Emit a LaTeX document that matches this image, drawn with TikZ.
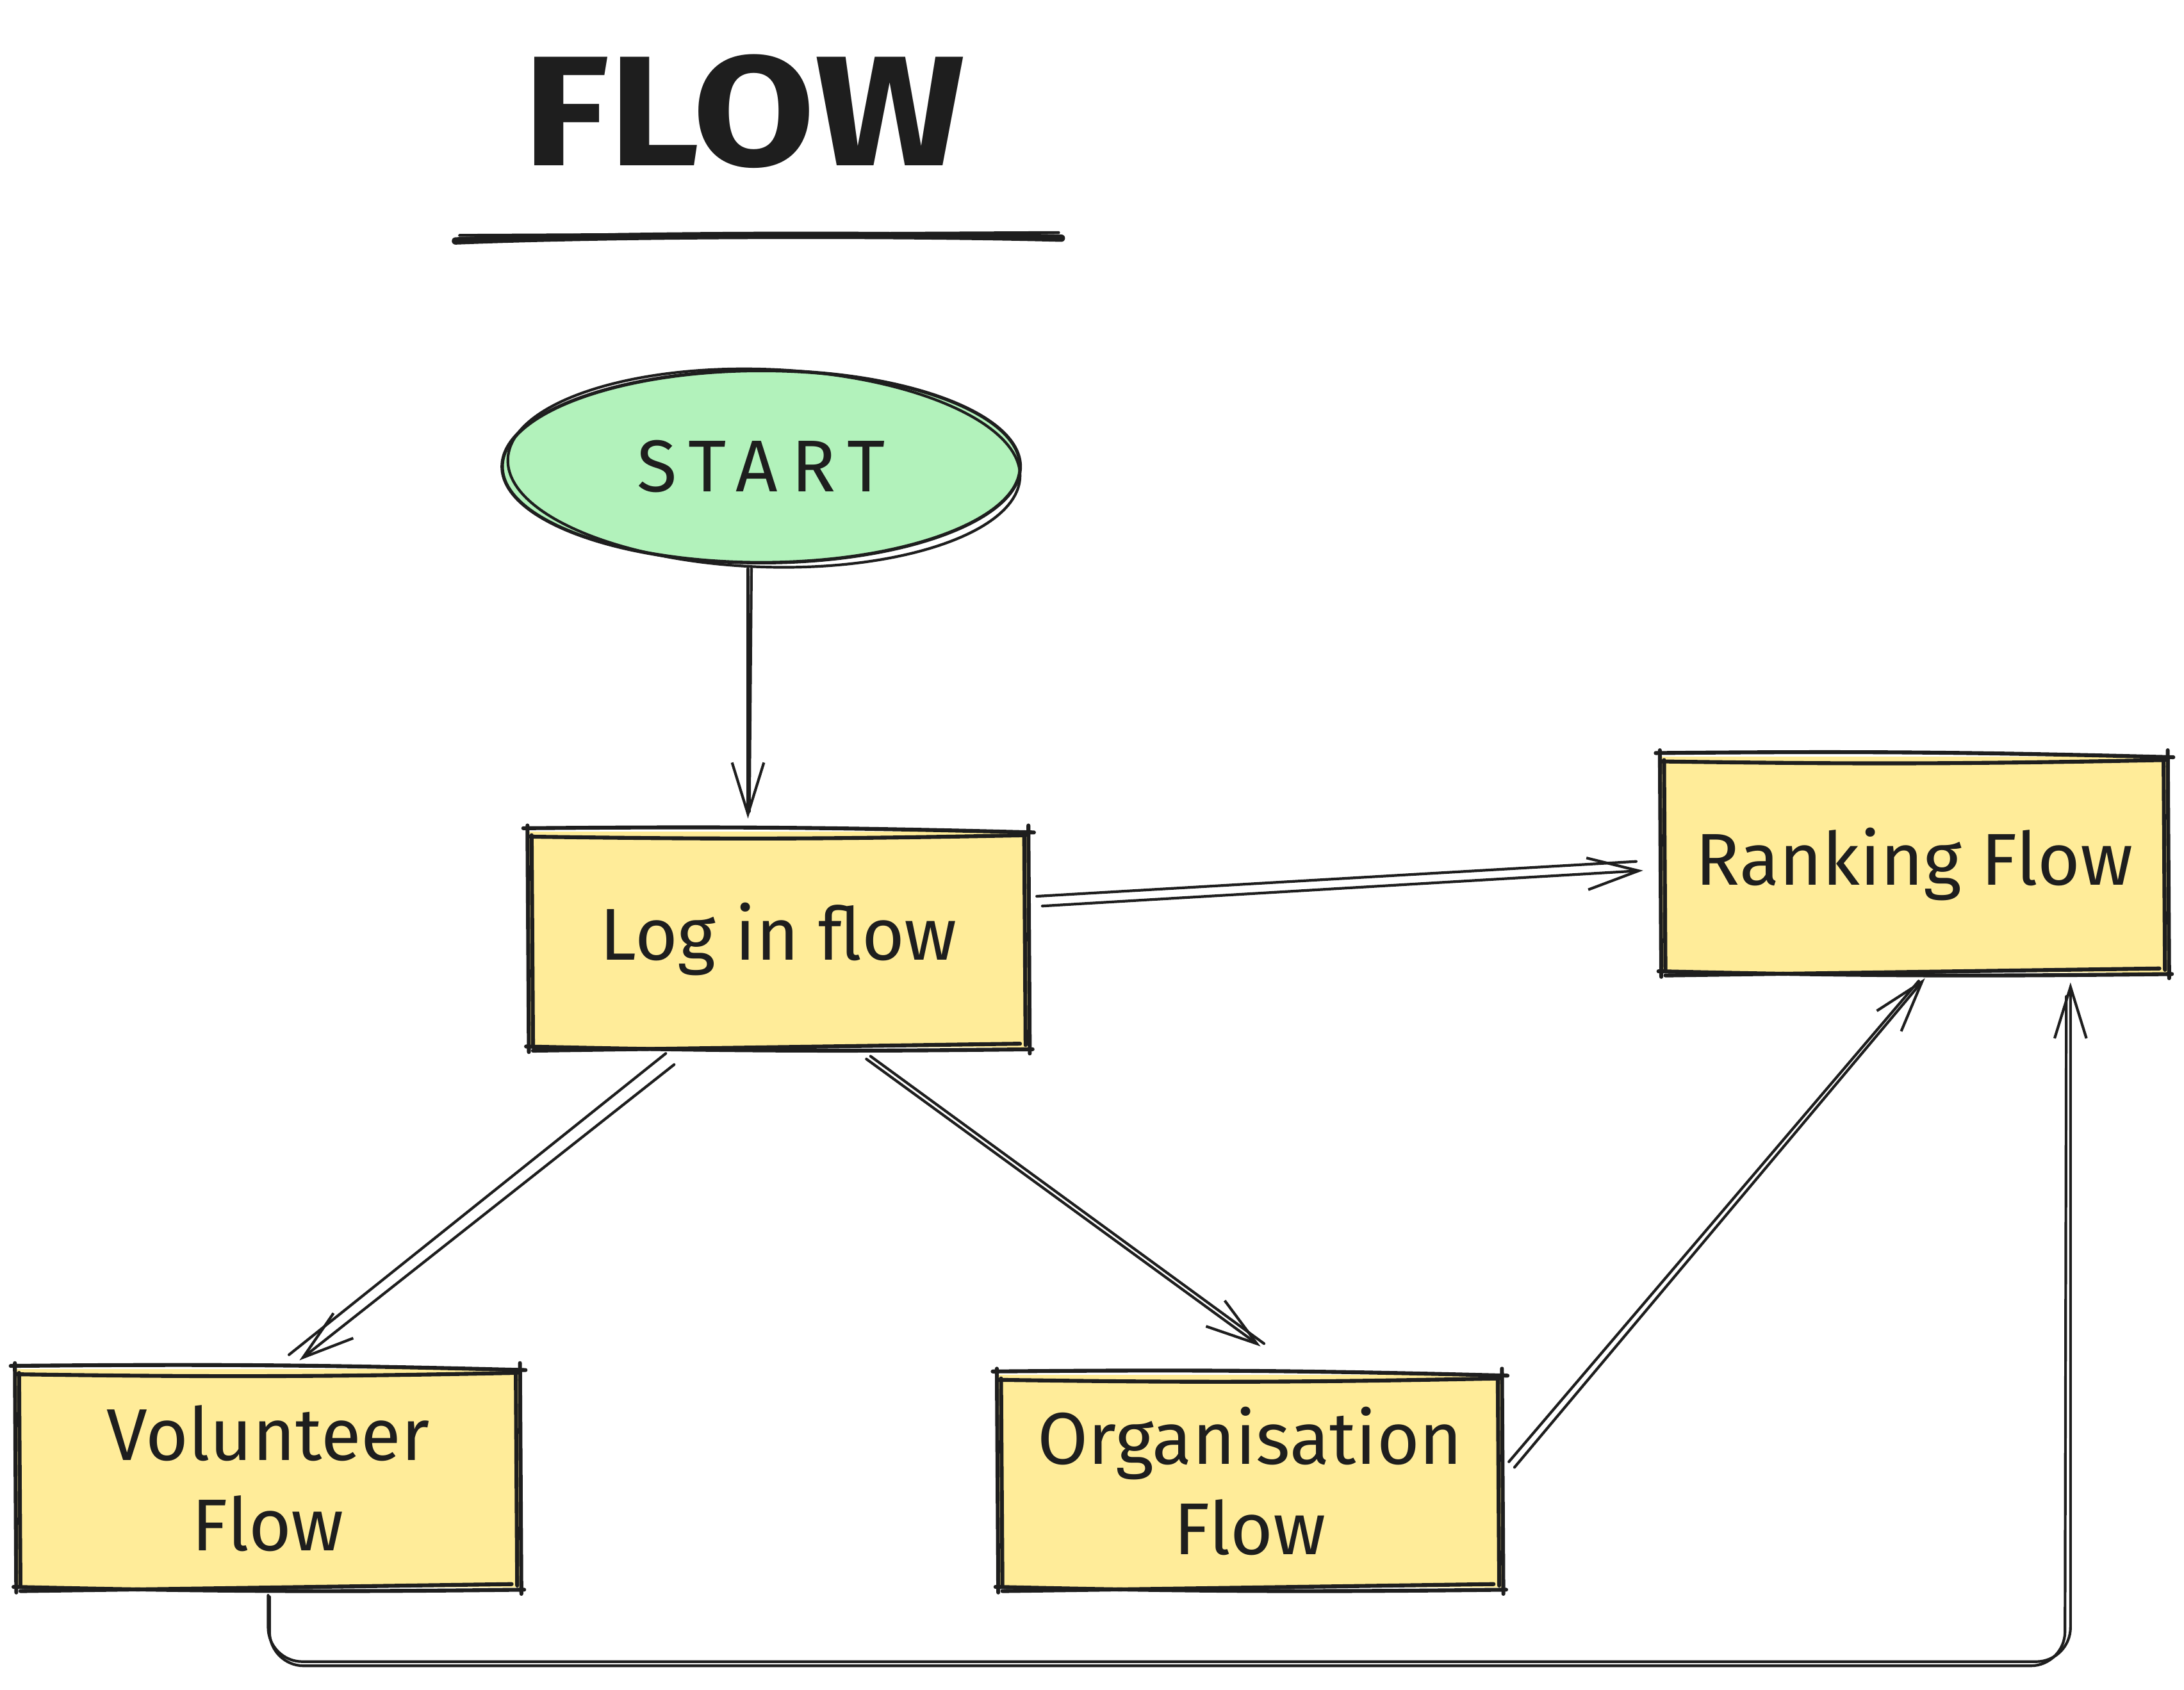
\documentclass[tikz,border=0pt]{standalone}
\usepackage{fontspec}
\setmainfont{Fira Sans}
\usetikzlibrary{calc,shapes.geometric,arrows.meta}
\definecolor{ink}{HTML}{1E1E1E}
\definecolor{boxfill}{HTML}{FFEC99}
\definecolor{startfill}{HTML}{B2F2BB}
\newcommand\skrect[1]{%
 \draw[boxline] ($(#1.north west)+(-4,-2)$) to[bend left=1] ($(#1.north east)+(4,1)$);
 \draw[boxline] ($(#1.north west)+(0,4)$) to[bend right=1] ($(#1.north east)+(-2,3)$);
 \draw[boxline] ($(#1.north east)+(0,-4)$) -- ($(#1.south east)+(1,4)$);
 \draw[boxline] ($(#1.north east)+(-3,2)$) -- ($(#1.south east)+(-2,-2)$);
 \draw[boxline] ($(#1.south east)+(3,1)$) to[bend left=1] ($(#1.south west)+(-2,-1)$);
 \draw[boxline] ($(#1.south east)+(-6,-3)$) -- ($(#1.south west)+(3,2)$);
 \draw[boxline] ($(#1.south west)+(0,3)$) -- ($(#1.north west)+(-1,-4)$);
 \draw[boxline] ($(#1.south west)+(3,-2)$) -- ($(#1.north west)+(2,3)$);
}
\begin{document}
\begin{tikzpicture}[x=0.02cm,y=-0.02cm,
  boxline/.style={draw=ink,line width=1.6pt,line cap=round,line join=round},
  flowbox/.style={fill=boxfill,minimum width=7.2cm,minimum height=3.1cm,inner sep=0pt,
    font=\fontsize{30}{37}\selectfont,text=ink,align=center},
  conn/.style={draw=ink,line width=1.1pt,line cap=round,line join=round},
  arr/.style={conn,-{Straight Barb[length=21pt,width=13pt,line width=1.1pt]}},
]
\useasboundingbox (0,0) rectangle (1568,1213);
% title
\node[font=\fontsize{64}{70}\selectfont\bfseries,text=ink] (title) at (534,80) {\scalebox{1.13}[1]{FLOW}};
\draw[ink,line width=3pt,line cap=round] (327,173) .. controls (450,168) and (650,168) .. (762,171);
\draw[ink,line width=1.2pt,line cap=round] (330,169) -- (760,167);
% start
\node[ellipse,fill=startfill,minimum width=7.46cm,minimum height=2.8cm,inner sep=0pt,
  font=\fontsize{30}{37}\selectfont\addfontfeature{LetterSpace=18},text=ink] (start) at (546.5,335) {START};
\draw[ink,line width=1.4pt] (start.center) ellipse [x radius=3.72cm,y radius=1.38cm];
\draw[ink,line width=1.1pt,rotate around={-2:(start.center)}] ($(start.center)+(2,1)$) ellipse [x radius=3.68cm,y radius=1.42cm];
% boxes
\node[flowbox,minimum width=7.16cm] (login) at (559,674.5) {Log in flow};
\node[flowbox,minimum width=7.26cm] (ranking) at (1374.5,620.5) {Ranking Flow};
\node[flowbox,minimum width=7.22cm,minimum height=3.14cm] (volunteer) at (192.5,1061.5) {Volunteer\\Flow};
\node[flowbox,minimum width=7.22cm,minimum height=3.06cm] (org) at (897.5,1063.5) {Organisation\\Flow};
\skrect{login}
\skrect{ranking}
\skrect{volunteer}
\skrect{org}
% connectors
\draw[arr] ($(start.south)+(-9.5,3)$) -- ($(login.north)+(-22,-9)$);
\draw[conn] ($(start.south)+(-7,3)$) -- ($(login.north)+(-21,-14)$);
\draw[arr] ($(login.east)+(10,-24)$) -- ($(ranking.west)+(-13,4.5)$);
\draw[conn] ($(login.east)+(6,-31)$) -- ($(ranking.west)+(-18,-2)$);
\draw[arr] ($(login.south)+(-75,12)$) -- ($(volunteer.north)+(22.5,-6)$);
\draw[conn] ($(login.south)+(-81,4)$) -- ($(volunteer.north)+(15,-10)$);
\draw[arr] ($(login.south)+(63,8)$) -- ($(org.north)+(7.5,-20)$);
\draw[conn] ($(login.south)+(66,6)$) -- ($(org.north)+(10,-22)$);
\draw[arr] ($(org.east)+(9,-10)$) -- ($(ranking.south)+(7.5,4)$);
\draw[conn] ($(org.east)+(5,-14)$) -- ($(ranking.south)+(3,6)$);
\coordinate (vr) at ($(ranking.south)+(112,7)$);
\draw[arr,rounded corners=14] ($(volunteer.south)+(0,5)$) |- (vr |- 0,1193) -- (vr);
\draw[conn,rounded corners=14] ($(volunteer.south)+(1,6)$) |- ($(vr |- 0,1196)+(-4,0)$) -- ($(vr)+(-3,10)$);
\end{tikzpicture}
\end{document}
